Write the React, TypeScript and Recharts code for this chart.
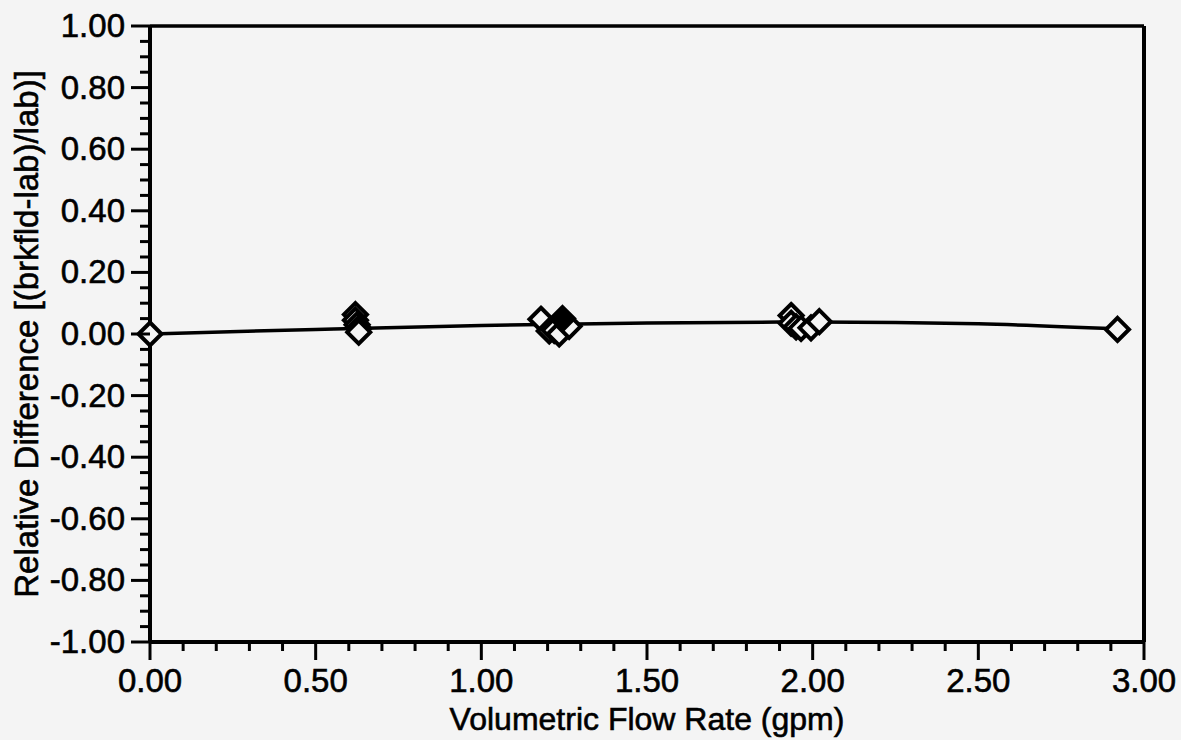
import { ComposedChart, Line, Scatter, XAxis, YAxis, ReferenceLine } from 'recharts';

// measured points (open diamonds)
const flowOpen = [0, 0.62, 0.62, 0.625, 0.63, 0.63, 1.18, 1.205, 1.22, 1.235, 1.265, 1.935, 1.935, 1.95, 1.965, 1.995, 2.02, 2.92];
const diffOpen = [0, 0.063, 0.045, 0.03, 0.018, 0.006, 0.048, 0.01, 0.012, 0.0, 0.025, 0.06, 0.035, 0.023, 0.018, 0.02, 0.04, 0.015];

// solid diamond
const flowSolid = [1.245];
const diffSolid = [0.05];

// fitted curve
const fitFlow = [0, 0.5, 1.0, 1.5, 2.0, 2.5, 2.92];
const fitDiff = [0, 0.015, 0.028, 0.036, 0.039, 0.033, 0.017];

const xMajor = [0, 0.5, 1.0, 1.5, 2.0, 2.5, 3.0];
const yMajor = [-1, -0.8, -0.6, -0.4, -0.2, 0, 0.2, 0.4, 0.6, 0.8, 1];

const xTicks = [...xMajor, ...xMajor.slice(0, -1).flatMap(v => [v + 0.1, v + 0.2, v + 0.3, v + 0.4])];
const yTicks = [...yMajor, ...yMajor.slice(0, -1).flatMap(v => [v + 0.05, v + 0.1, v + 0.15])];

const openPts = flowOpen.map((x, i) => ({ x, y: diffOpen[i] }));
const solidPts = flowSolid.map((x, i) => ({ x, y: diffSolid[i] }));
const fitPts = fitFlow.map((x, i) => ({ x, y: fitDiff[i] }));

const FONT = '"Liberation Sans", Arial, Helvetica, sans-serif';
const BG = '#f4f4f4';

const isMajor = (list: number[], v: number) => list.some(m => Math.abs(m - v) < 1e-6);

const YTick = (props: any) => {
  const { x, y, payload } = props;
  const major = isMajor(yMajor, payload.value);
  return (
    <g>
      <line x1={x - (major ? 19 : 10)} x2={x} y1={y} y2={y} stroke="#000" strokeWidth={3} />
      {major && (
        <text x={x - 25} y={y + 11} textAnchor="end" fontSize={33} fontFamily={FONT} fill="#000" stroke="#000" strokeWidth={0.6}>
          {payload.value.toFixed(2)}
        </text>
      )}
    </g>
  );
};

const XTick = (props: any) => {
  const { x, y, payload } = props;
  const major = isMajor(xMajor, payload.value);
  return (
    <g>
      <line x1={x} x2={x} y1={y} y2={y + (major ? 18 : 9)} stroke="#000" strokeWidth={3} />
      {major && (
        <text x={x} y={y + 50} textAnchor="middle" fontSize={33} fontFamily={FONT} fill="#000" stroke="#000" strokeWidth={0.6}>
          {payload.value.toFixed(2)}
        </text>
      )}
    </g>
  );
};

const Diamond = (props: any) => {
  const { cx, cy, filled } = props;
  const r = 11.5;
  return (
    <path
      d={`M${cx},${cy - r} L${cx + r},${cy} L${cx},${cy + r} L${cx - r},${cy} Z`}
      fill={filled ? '#000' : BG}
      stroke="#000"
      strokeWidth={4}
    />
  );
};

export default function App() {
  return (
    <div style={{ position: 'absolute', left: 0, top: 0, width: 1181, height: 740, background: BG }}>
      <ComposedChart width={1181} height={740} margin={{ top: 26, right: 37, bottom: 0, left: 0 }}>
        <XAxis
          dataKey="x"
          type="number"
          domain={[0, 3]}
          ticks={xTicks}
          interval={0}
          tickSize={0}
          tickMargin={0}
          tickLine={false}
          tick={<XTick />}
          axisLine={{ stroke: '#000', strokeWidth: 4 }}
          height={98}
          label={{ value: 'Volumetric Flow Rate (gpm)', position: 'insideBottom', offset: 10, fontSize: 32, fontFamily: FONT, fill: '#000', stroke: '#000', strokeWidth: 0.6 }}
        />
        <YAxis
          dataKey="y"
          type="number"
          domain={[-1, 1]}
          ticks={yTicks}
          interval={0}
          tickSize={0}
          tickMargin={0}
          tickLine={false}
          tick={<YTick />}
          axisLine={{ stroke: '#000', strokeWidth: 4 }}
          width={150}
          label={{ value: 'Relative Difference [(brkfld-lab)/lab)]', angle: -90, position: 'insideLeft', offset: 26, fontSize: 33, fontFamily: FONT, fill: '#000', stroke: '#000', strokeWidth: 0.6, style: { textAnchor: 'middle' } }}
        />
        <ReferenceLine y={1} stroke="#000" strokeWidth={3.5} />
        <ReferenceLine x={3} stroke="#000" strokeWidth={4} />
        <Line data={fitPts} dataKey="y" type="monotone" stroke="#000" strokeWidth={3.5} dot={false} isAnimationActive={false} />
        <Scatter data={openPts} dataKey="y" shape={<Diamond />} isAnimationActive={false} />
        <Scatter data={solidPts} dataKey="y" shape={<Diamond filled />} isAnimationActive={false} />
      </ComposedChart>
    </div>
  );
}
